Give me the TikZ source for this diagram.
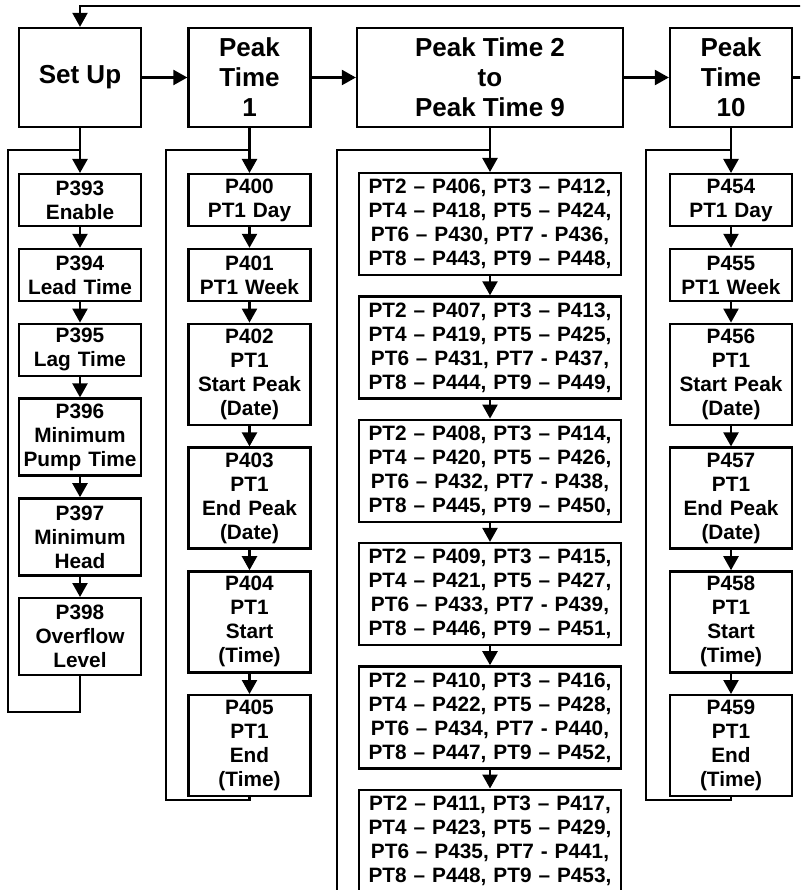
\documentclass[tikz,border=0pt]{standalone}
\usepackage{fontspec}
\setmainfont{Liberation Sans}
\usetikzlibrary{positioning,arrows.meta}

\begin{document}
\begin{tikzpicture}[>={Triangle[width=15pt,length=14pt]},x=1pt,y=1pt,line width=2.3pt,node distance=20.5pt]
\tikzstyle{head}=[draw,font=\fontsize{26}{30}\selectfont\bfseries,align=center,minimum width=122pt,minimum height=99pt,inner sep=0pt]
\tikzstyle{param}=[draw,font=\fontsize{20.8}{24}\selectfont\bfseries,align=center,text width=120pt,inner xsep=1pt,inner ysep=0pt,minimum height=52pt]
\tikzstyle{tall}=[param,minimum height=77pt]
\tikzstyle{taller}=[param,minimum height=101pt]
\tikzstyle{ptset}=[param,text width=260pt,minimum height=102pt]

\useasboundingbox (0,0) rectangle (800,-890);
\clip (0,0) rectangle (800,-890);

% top row
\node[head] (setup) at (80,-77.5) {Set Up};
\node[head] (pt1) at (249.5,-77.5) {Peak\\Time\\1};
\node[head,minimum width=266pt] (pt29) at (490,-77.5) {Peak Time 2\\to\\Peak Time 9};
\node[head] (pt10) at (731,-77.5) {Peak\\Time\\10};

% set up
\node[param,anchor=north] (p393) at (80,-173) {P393\\Enable};
\node[param,below=of p393] (p394) {P394\\Lead Time};
\node[param,below=of p394] (p395) {P395\\Lag Time};
\node[tall,below=of p395] (p396) {P396\\Minimum\\Pump Time};
\node[tall,below=of p396] (p397) {P397\\Minimum\\Head};
\node[tall,below=of p397] (p398) {P398\\Overflow\\Level};

% peak time 1
\node[param,anchor=north] (p400) at (249.5,-173) {P400\\PT1 Day};
\node[param,below=of p400] (p401) {P401\\PT1 Week};
\node[taller,below=of p401] (p402) {P402\\PT1\\Start Peak\\(Date)};
\node[taller,below=of p402] (p403) {P403\\PT1\\End Peak\\(Date)};
\node[taller,below=of p403] (p404) {P404\\PT1\\Start\\(Time)};
\node[taller,below=of p404] (p405) {P405\\PT1\\End\\(Time)};

% peak time 2 to 9
\node[ptset,anchor=north] (g1) at (490,-172) {PT2 – P406, PT3 – P412,\\PT4 – P418, PT5 – P424,\\PT6 – P430, PT7 - P436,\\PT8 – P443, PT9 – P448,};
\node[ptset,below=19pt of g1] (g2) {PT2 – P407, PT3 – P413,\\PT4 – P419, PT5 – P425,\\PT6 – P431, PT7 - P437,\\PT8 – P444, PT9 – P449,};
\node[ptset,below=19pt of g2] (g3) {PT2 – P408, PT3 – P414,\\PT4 – P420, PT5 – P426,\\PT6 – P432, PT7 - P438,\\PT8 – P445, PT9 – P450,};
\node[ptset,below=19pt of g3] (g4) {PT2 – P409, PT3 – P415,\\PT4 – P421, PT5 – P427,\\PT6 – P433, PT7 - P439,\\PT8 – P446, PT9 – P451,};
\node[ptset,below=19pt of g4] (g5) {PT2 – P410, PT3 – P416,\\PT4 – P422, PT5 – P428,\\PT6 – P434, PT7 - P440,\\PT8 – P447, PT9 – P452,};
\node[ptset,below=19pt of g5] (g6) {PT2 – P411, PT3 – P417,\\PT4 – P423, PT5 – P429,\\PT6 – P435, PT7 - P441,\\PT8 – P448, PT9 – P453,};

% peak time 10
\node[param,anchor=north] (p454) at (731,-173) {P454\\PT1 Day};
\node[param,below=of p454] (p455) {P455\\PT1 Week};
\node[taller,below=of p455] (p456) {P456\\PT1\\Start Peak\\(Date)};
\node[taller,below=of p456] (p457) {P457\\PT1\\End Peak\\(Date)};
\node[taller,below=of p457] (p458) {P458\\PT1\\Start\\(Time)};
\node[taller,below=of p458] (p459) {P459\\PT1\\End\\(Time)};

\coordinate (c1t) at (8,-150);
\coordinate (c1b) at (8,-712);
\coordinate (c2t) at (166,-150);
\coordinate (c2b) at (166,-800);
\coordinate (c3t) at (337,-150);
\coordinate (c3b) at (337,-900);
\coordinate (c4t) at (646,-150);
\coordinate (c4b) at (646,-800);
\coordinate (ret) at (806,-6);

\path[->] (setup) edge (pt1)
                  edge (p393)
          (pt1) edge (pt29)
                edge (p400)
          (pt29) edge (pt10)
                 edge (g1)
          (pt10) edge (p454)
          (p393) edge (p394)
          (p394) edge (p395)
          (p395) edge (p396)
          (p396) edge (p397)
          (p397) edge (p398)
          (p400) edge (p401)
          (p401) edge (p402)
          (p402) edge (p403)
          (p403) edge (p404)
          (p404) edge (p405)
          (g1) edge (g2)
          (g2) edge (g3)
          (g3) edge (g4)
          (g4) edge (g5)
          (g5) edge (g6)
          (p454) edge (p455)
          (p455) edge (p456)
          (p456) edge (p457)
          (p457) edge (p458)
          (p458) edge (p459);

% loops back
\draw (p398.south) |- (c1b) -- (c1t) -- (setup.south |- c1t);
\draw (p405.south) |- (c2b) -- (c2t) -- (pt1.south |- c2t);
\draw (g6.south) |- (c3b) -- (c3t) -- (pt29.south |- c3t);
\draw (p459.south) |- (c4b) -- (c4t) -- (pt10.south |- c4t);
\draw[->] (pt10.east) -| (ret) -| (setup.north);

\end{tikzpicture}
\end{document}
